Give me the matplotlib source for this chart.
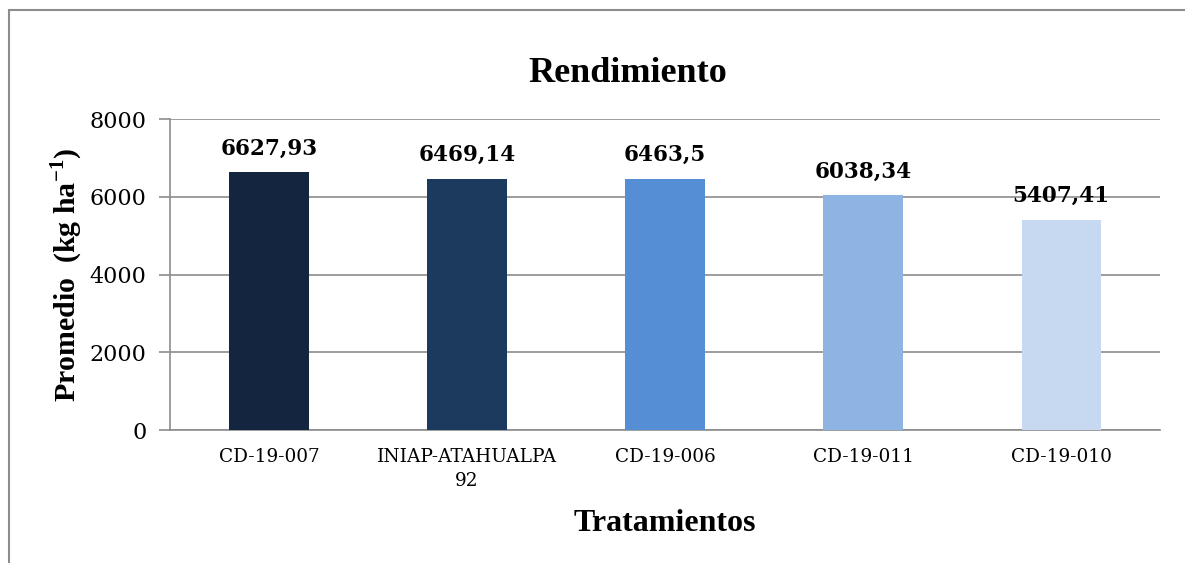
import matplotlib
matplotlib.use("Agg")
import matplotlib.pyplot as plt
from matplotlib.patches import Rectangle

# yield per treatment (kg/ha)
tratamientos = ["CD-19-007", "INIAP-ATAHUALPA\n92", "CD-19-006", "CD-19-011", "CD-19-010"]
rendimiento = [6627.93, 6469.14, 6463.5, 6038.34, 5407.41]
etiquetas = ["6627,93", "6469,14", "6463,5", "6038,34", "5407,41"]
colores = ["#14263F", "#1B3A5E", "#558ED5", "#8EB4E3", "#C6D9F1"]
yticks = [0, 2000, 4000, 6000, 8000]

plt.rcParams["font.family"] = ["Liberation Serif", "DejaVu Serif"]
plt.rcParams["mathtext.fontset"] = "custom"
plt.rcParams["mathtext.rm"] = "Liberation Serif"
plt.rcParams["mathtext.bf"] = "Liberation Serif:bold"

GRIS = "#8C8C8C"
SERIF2 = "DejaVu Serif"

fig = plt.figure(figsize=(11.85, 5.63), dpi=100)
ax = fig.add_axes([0.1435, 0.2362, 0.8355, 0.5524])

# outer chart border
fig.patches.append(Rectangle((9 / 1185, -0.1), 1.2, 1 - 10 / 563 + 0.1,
                             transform=fig.transFigure, fill=False,
                             edgecolor=GRIS, linewidth=1.5))

x = range(len(tratamientos))
ax.bar(x, rendimiento, width=0.40, color=colores, zorder=3)
for i, v in enumerate(rendimiento):
    ax.text(i, v + 460, etiquetas[i], ha="center", va="baseline",
            fontsize=15.5, fontweight="bold", family=SERIF2, zorder=4)

ax.set_xlim(-0.5, len(tratamientos) - 0.5)
ax.set_ylim(0, 8000)
ax.set_yticks(yticks)
ax.set_yticklabels([str(t) for t in yticks], family=SERIF2)
ax.yaxis.grid(True, color=GRIS, linewidth=1.2, zorder=0)
ax.set_xticks(list(x))
ax.set_xticklabels(tratamientos, fontsize=13.3, linespacing=1.4, family=SERIF2)
ax.tick_params(axis="x", length=0, pad=13)
ax.tick_params(axis="y", length=8, width=1.2, color=GRIS, labelsize=16, pad=9)

for s in ["top", "right"]:
    ax.spines[s].set_visible(False)
for s in ["left", "bottom"]:
    ax.spines[s].set_color(GRIS)
    ax.spines[s].set_linewidth(1.2)

fig.text(628 / 1185, 1 - 73 / 563, "Rendimiento", ha="center", va="center",
         fontsize=26, fontweight="bold")
ax.set_xlabel("Tratamientos", fontsize=23, fontweight="bold", labelpad=14)
ax.set_ylabel("Promedio  (kg ha$^{\\mathbf{-1}}$)", fontsize=21.5, fontweight="bold", labelpad=3)

fig.savefig("out.png", dpi=100)
